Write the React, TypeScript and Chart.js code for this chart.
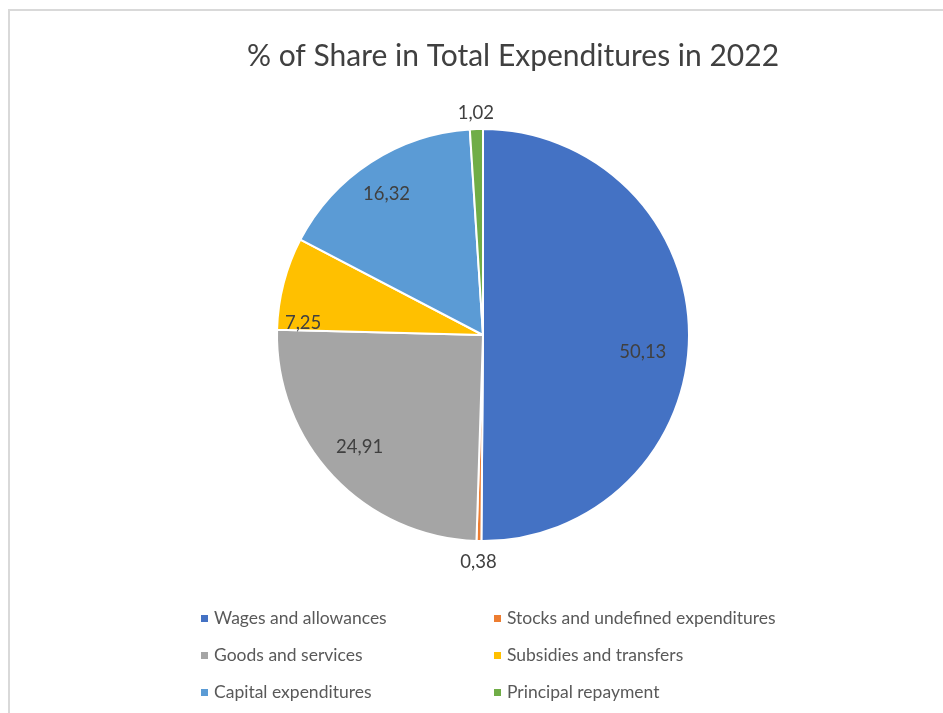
import React, { useEffect, useRef } from "react";
import { Chart, registerables } from "chart.js";

Chart.register(...registerables);

const chartTitle = "% of Share in Total Expenditures in 2022";
const categories = [
  "Wages and allowances",
  "Stocks and undefined expenditures",
  "Goods and services",
  "Subsidies and transfers",
  "Capital expenditures",
  "Principal repayment",
];
const shares = [50.13, 0.38, 24.91, 7.25, 16.32, 1.02];
const colors = ["#4472C4", "#ED7D31", "#A5A5A5", "#FFC000", "#5B9BD5", "#70AD47"];

// label placement (radius fraction, angle nudge in degrees) per slice
const labelPlacement = [
  { r: 0.78, da: 5.8 },
  { r: 1.1, da: 0 },
  { r: 0.81, da: 1 },
  { r: 0.875, da: -10.8 },
  { r: 0.83, da: -1.3 },
  { r: 1.08, da: 0 },
];

const FONT = "Lato, 'Open Sans', sans-serif";

const fmt = (v: number) => v.toFixed(2).replace(".", ",");

const decorPlugin = {
  id: "decor",
  beforeDraw(chart: any) {
    const ctx = chart.ctx;
    ctx.save();
    ctx.fillStyle = "#ffffff";
    ctx.fillRect(0, 0, chart.width, chart.height);
    ctx.strokeStyle = "#d9d9d9";
    ctx.lineWidth = 2;
    ctx.strokeRect(9, 10, chart.width + 10, chart.height + 10);
    // title
    ctx.fillStyle = "#404040";
    ctx.font = `30px ${FONT}`;
    ctx.textAlign = "center";
    ctx.textBaseline = "middle";
    ctx.fillText(chartTitle, 513, 56);
    ctx.restore();
  },
  afterDraw(chart: any) {
    const ctx = chart.ctx;
    const meta = chart.getDatasetMeta(0);
    ctx.save();
    ctx.font = `18.5px ${FONT}`;
    ctx.fillStyle = "#404040";
    ctx.textAlign = "center";
    ctx.textBaseline = "middle";
    meta.data.forEach((arc: any, i: number) => {
      const { x, y, startAngle, endAngle, outerRadius } = arc.getProps(
        ["x", "y", "startAngle", "endAngle", "outerRadius"],
        true
      );
      const p = labelPlacement[i];
      const mid = (startAngle + endAngle) / 2 + (p.da * Math.PI) / 180;
      const rr = outerRadius * p.r;
      ctx.fillText(fmt(shares[i]), x + Math.cos(mid) * rr, y + Math.sin(mid) * rr);
    });
    // legend: 2 columns
    ctx.font = `17.5px ${FONT}`;
    ctx.textAlign = "left";
    const colX = [201, 494];
    const rowY = [618, 655, 692];
    categories.forEach((c, i) => {
      const cx = colX[i % 2];
      const cy = rowY[Math.floor(i / 2)];
      ctx.fillStyle = colors[i];
      ctx.fillRect(cx, cy - 3, 7, 7);
      ctx.fillStyle = "#595959";
      ctx.fillText(c, cx + 13, cy);
    });
    ctx.restore();
  },
};

export default function App() {
  const ref = useRef<HTMLCanvasElement>(null);
  useEffect(() => {
    if (!ref.current) return;
    const chart = new Chart(ref.current, {
      type: "pie",
      data: {
        labels: categories,
        datasets: [
          {
            data: shares,
            backgroundColor: colors,
            borderColor: "#ffffff",
            borderWidth: 2,
          },
        ],
      },
      options: {
        responsive: false,
        animation: false,
        devicePixelRatio: 1,
        layout: { padding: { top: 128, bottom: 171, left: 100, right: 77 } },
        plugins: {
          legend: { display: false },
          title: { display: false },
          tooltip: { enabled: false },
        },
      },
      plugins: [decorPlugin],
    });
    return () => chart.destroy();
  }, []);
  return (
    <div style={{ position: "fixed", left: 0, top: 0, width: 943, height: 713, background: "#fff" }}>
      <canvas ref={ref} width={943} height={713} style={{ width: 943, height: 713 }} />
    </div>
  );
}
